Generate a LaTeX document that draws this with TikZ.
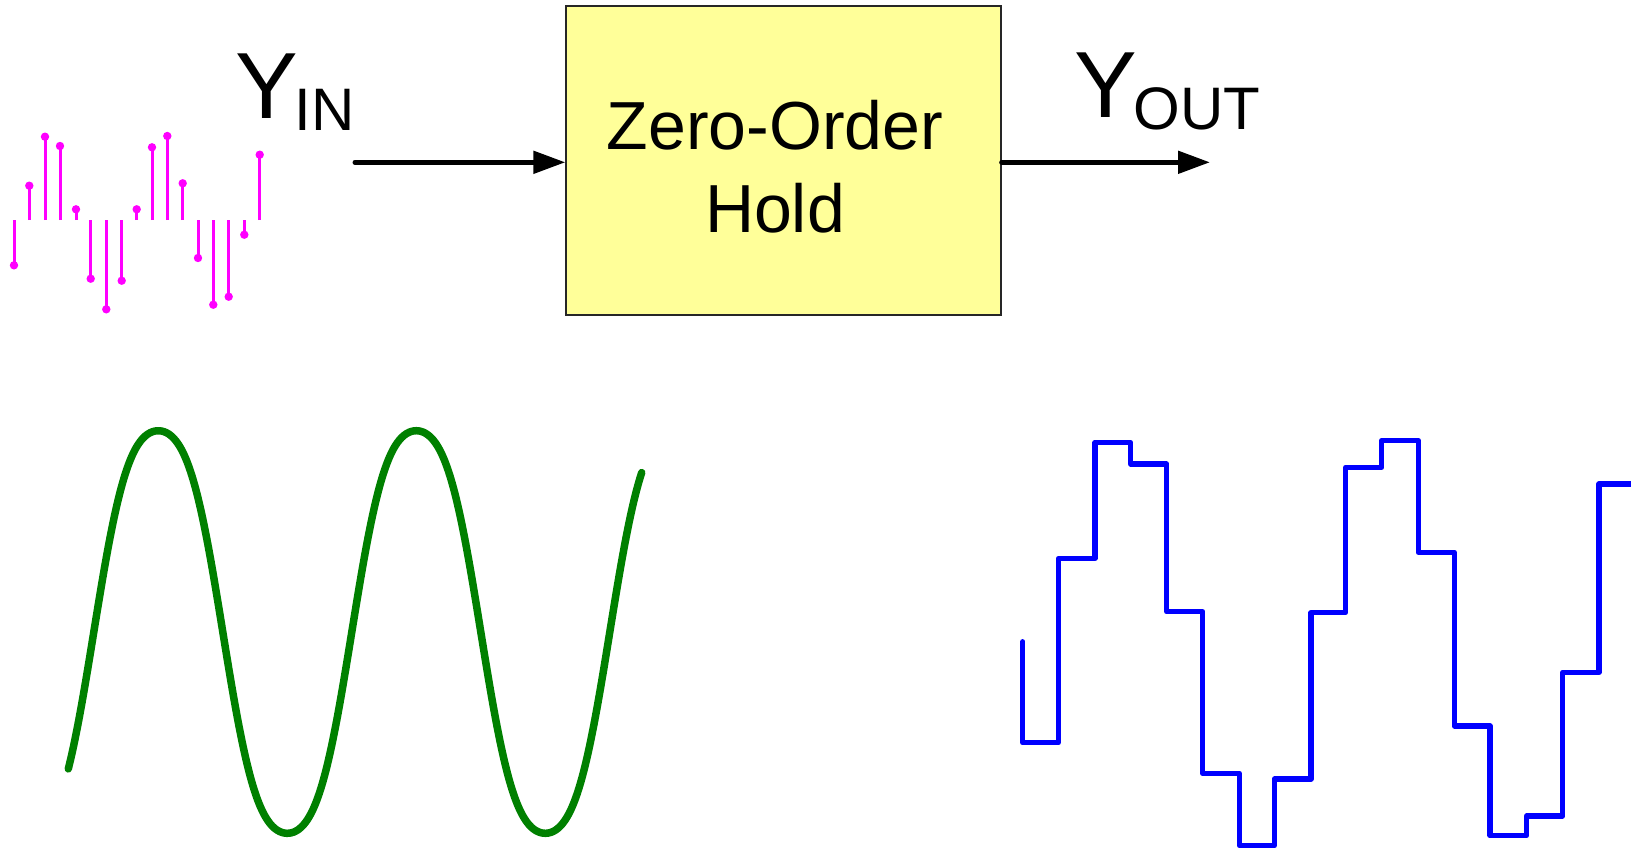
\documentclass[tikz,border=0pt]{standalone}
\usepackage{fontspec}
\setmainfont{Liberation Sans}
\usetikzlibrary{arrows.meta}
\definecolor{zohfill}{HTML}{FFFF99}
\definecolor{stemcol}{HTML}{FF00FF}
\definecolor{sinecol}{HTML}{008000}
\definecolor{zohcol}{HTML}{0000FF}
\tikzset{
  zohbox/.style={draw=black!85, line width=1.3pt, fill=zohfill, rectangle,
    minimum width=435pt, minimum height=309pt, inner sep=0pt},
  bigtext/.style={font=\fontsize{68}{83}\selectfont, align=center, inner sep=0pt, anchor=base},
  sigarrow/.style={line width=5pt, line cap=round, -{Triangle[length=32pt,width=22pt]}},
  siglabel/.style={inner sep=0pt, anchor=base west},
  stemline/.style={stemcol, line width=3pt},
  stemdot/.style={fill=stemcol},
  sinewave/.style={sinecol, line width=7.5pt, line cap=round, line join=round},
  holdwave/.style={zohcol, line width=5.3pt, line cap=round, line join=round}
}
\newcommand{\siglab}[1]{{\fontsize{94}{94}\selectfont Y}\kern-3pt\raisebox{-12pt}{\fontsize{60}{60}\selectfont #1}}
\begin{document}
\begin{tikzpicture}[x=1pt,y=-1pt]
\useasboundingbox (0,0) rectangle (1631,849);

% block
\node[zohbox] (zoh) at (783.5,160.5) {};
\node[bigtext] (zohtext) at (775,232) {Zero-Order\\Hold};

% labels
\node[siglabel] (yin) at (235,118) {\siglab{IN}};
\node[siglabel] (yout) at (1074,117.5) {\siglab{OUT}};

% connectors
\coordinate (instart) at (355,162.3);
\coordinate (outend) at (1210,162.3);
\draw[sigarrow] (instart) -- (instart -| zoh.west);
\draw[sigarrow] (zoh.east |- outend) -- (outend);

% sampled input (stems)
\foreach \xx/\yy in {14/265.3, 29.3/185.7, 45/136.7, 60/146, 76/209.3, 90.7/278.7,
  106.3/309.3, 121.7/280.7, 136.7/209.3, 152/147.3, 167.3/136, 182.7/183.3,
  198/258, 213.3/304.7, 228.7/296.7, 244.3/234.7, 259.7/154.7}{
  \draw[stemline] (\xx,220) -- (\xx,\yy);
  \fill[stemdot] (\xx,\yy) circle (4.2pt);
}

% continuous input
\draw[sinewave] plot[domain=68.3:641.7, samples=240, smooth]
  (\x, {632 - 201.3*(cos((\x-158.3)*1.39535) - 0.06*cos(3*((\x-158.3)*1.39535)))/0.94});

% zero-order hold output
\draw[holdwave] (1022.7,641.7) -- (1022.7,742.7) -- (1058.3,742.7) -- (1058.3,558.3)
  -- (1095,558.3) -- (1095,442.3) -- (1130.7,442.3) -- (1130.7,464)
  -- (1166.7,464) -- (1166.7,611.7) -- (1202.7,611.7) -- (1202.7,773.3)
  -- (1239.3,773.3) -- (1239.3,845.7) -- (1274.3,845.7) -- (1274.3,779)
  -- (1311,779) -- (1311,612.7) -- (1345.7,612.7) -- (1345.7,467.3)
  -- (1381.7,467.3) -- (1381.7,440.7) -- (1418.3,440.7) -- (1418.3,552.3)
  -- (1454.3,552.3) -- (1454.3,726) -- (1490,726) -- (1490,835.7)
  -- (1526.7,835.7) -- (1526.7,816) -- (1562.7,816) -- (1562.7,672.3)
  -- (1599,672.3) -- (1599,484) -- (1640,484);
\end{tikzpicture}
\end{document}
